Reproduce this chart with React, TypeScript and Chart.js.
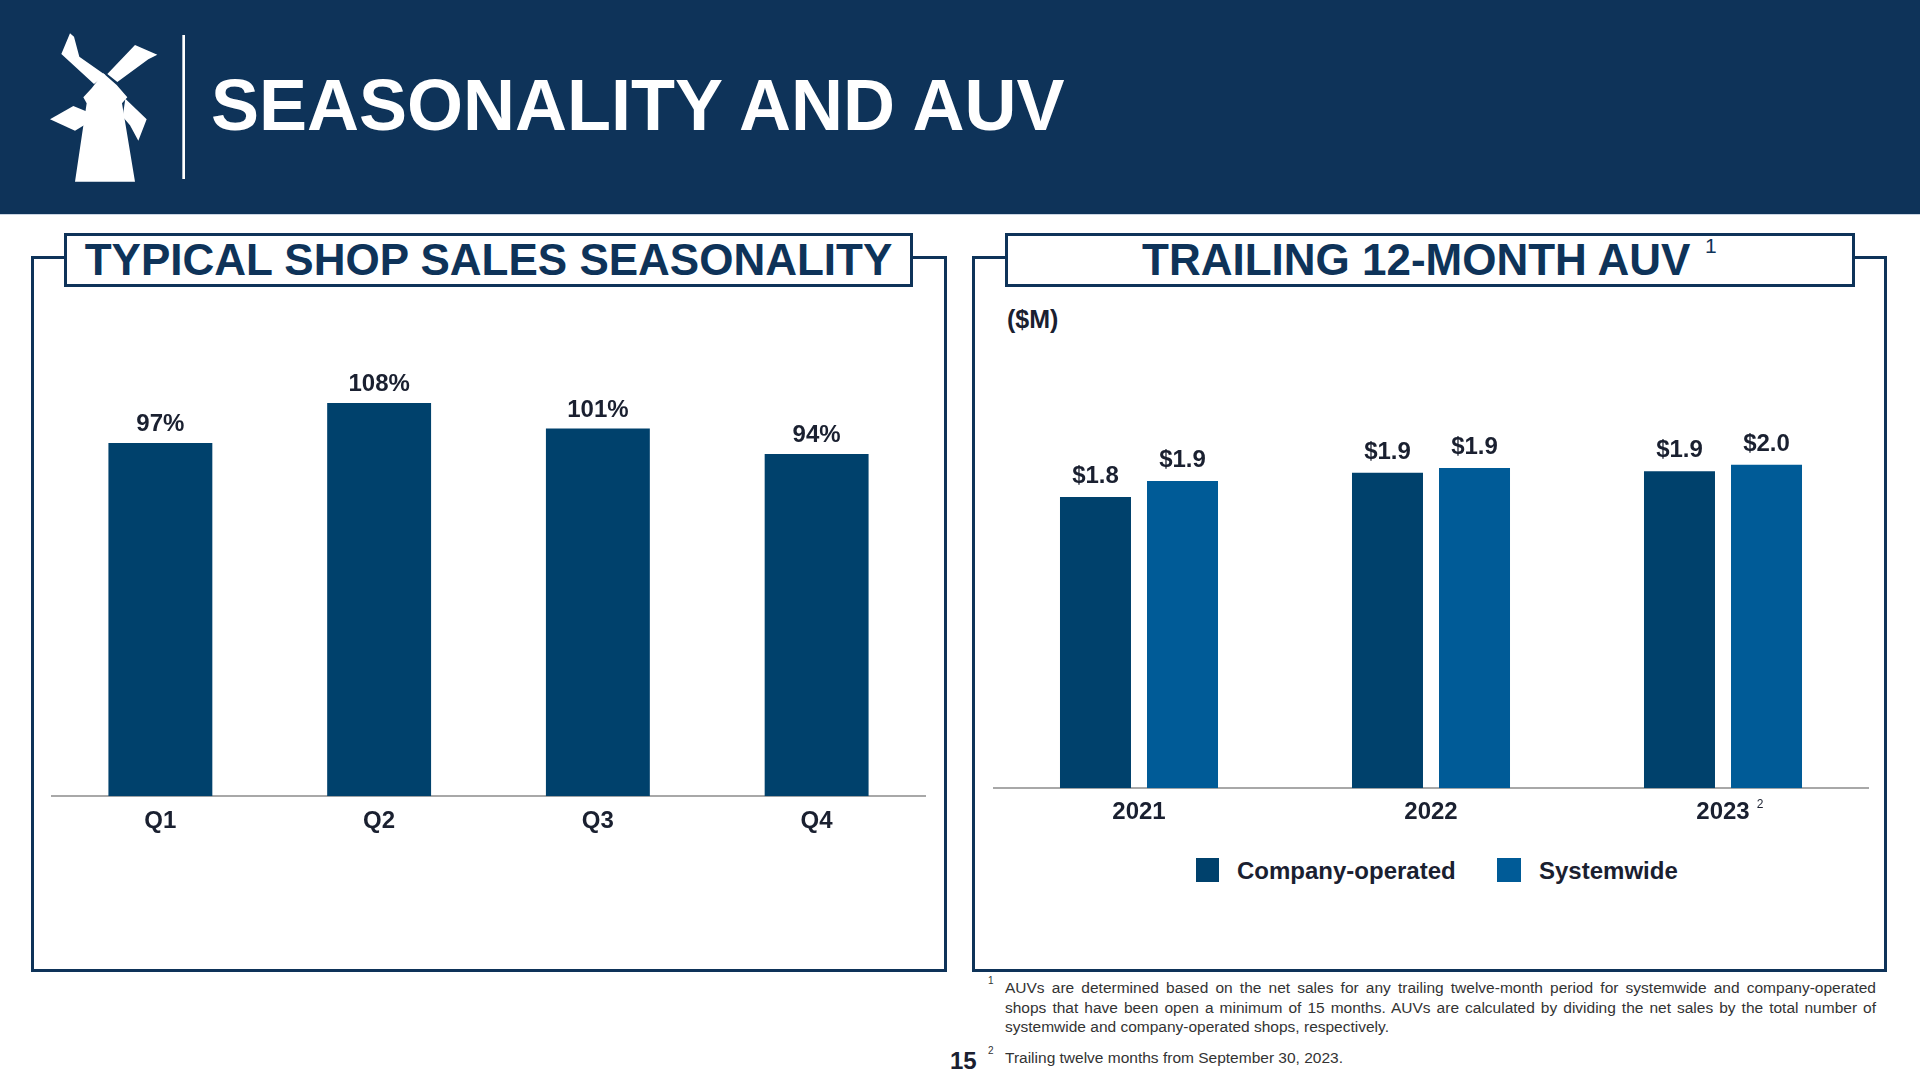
import React, { useEffect, useRef } from "react";
import { Chart, registerables } from "chart.js";

Chart.register(...registerables);

// ---------- data ----------
const quarters = ["Q1", "Q2", "Q3", "Q4"];
const seasonality = [97, 108, 101, 94];
const seasonalityLabels = ["97%", "108%", "101%", "94%"];

const years = ["2021", "2022", "2023"];
const yearSuperscripts = ["", "", "2"];
const companyOperated = [1.8, 1.95, 1.96];
const systemwide = [1.9, 1.98, 2.0];
const companyLabels = ["$1.8", "$1.9", "$1.9"];
const systemwideLabels = ["$1.9", "$1.9", "$2.0"];
const seriesNames = ["Company-operated", "Systemwide"];

const footnote1Lines = [
  "AUVs are determined based on the net sales for any trailing twelve-month period for systemwide and company-operated",
  "shops that have been open a minimum of 15 months. AUVs are calculated by dividing the net sales by the total number of",
  "systemwide and company-operated shops, respectively.",
];
const footnote2 = "Trailing twelve months from September 30, 2023.";

// ---------- style ----------
const NAVY = "#0e3359";
const BAR_DARK = "#00416c";
const BAR_LIGHT = "#005b97";
const TEXT_DARK = "#1a2030";
const AXIS_GRAY = "#a8a8a8";
const FONT = '"Liberation Sans", Arial, Helvetica, sans-serif';

function valueLabels(labelSets: string[][], offset: number) {
  return {
    id: "valueLabels",
    afterDatasetsDraw(chart: any) {
      const ctx = chart.ctx;
      ctx.save();
      ctx.font = `bold 24px ${FONT}`;
      ctx.fillStyle = TEXT_DARK;
      ctx.textAlign = "center";
      ctx.textBaseline = "alphabetic";
      chart.data.datasets.forEach((_ds: any, i: number) => {
        const meta = chart.getDatasetMeta(i);
        meta.data.forEach((bar: any, j: number) => {
          ctx.fillText(labelSets[i][j], bar.x, bar.y - offset);
        });
      });
      ctx.restore();
    },
  };
}

function tickSuperscripts(labels: string[], sups: string[], baseline: number) {
  return {
    id: "tickSups",
    afterDraw(chart: any) {
      const ctx = chart.ctx;
      const xs = chart.scales.x;
      ctx.save();
      labels.forEach((lab, i) => {
        if (!sups[i]) return;
        ctx.font = `bold 24px ${FONT}`;
        const w = ctx.measureText(lab).width;
        const px = xs.getPixelForTick(i);
        ctx.font = `12px ${FONT}`;
        ctx.fillStyle = TEXT_DARK;
        ctx.textAlign = "left";
        ctx.textBaseline = "alphabetic";
        ctx.fillText(sups[i], px + w / 2 + 7, xs.top + baseline);
      });
      ctx.restore();
    },
  };
}

function SeasonalityChart() {
  const ref = useRef<HTMLCanvasElement>(null);
  useEffect(() => {
    const chart = new Chart(ref.current as HTMLCanvasElement, {
      type: "bar",
      data: {
        labels: quarters,
        datasets: [
          {
            data: seasonality,
            backgroundColor: BAR_DARK,
            categoryPercentage: 0.95,
            barPercentage: 0.5,
          },
        ],
      },
      options: {
        animation: false,
        responsive: false,
        maintainAspectRatio: false,
        layout: { padding: 0 },
        plugins: { legend: { display: false }, tooltip: { enabled: false } },
        scales: {
          x: {
            grid: { display: false, drawTicks: false },
            border: { display: true, color: AXIS_GRAY, width: 2 },
            ticks: {
              font: { family: FONT, size: 24, weight: "bold" },
              color: TEXT_DARK,
              padding: 11,
            },
          },
          y: { display: false, min: 0, max: 130 },
        },
      },
      plugins: [valueLabels([seasonalityLabels], 12)],
    } as any);
    return () => chart.destroy();
  }, []);
  return (
    <canvas
      ref={ref}
      width={875}
      height={524}
      style={{ position: "absolute", left: 51, top: 323, width: 875, height: 524 }}
    />
  );
}

function AuvChart() {
  const ref = useRef<HTMLCanvasElement>(null);
  useEffect(() => {
    const chart = new Chart(ref.current as HTMLCanvasElement, {
      type: "bar",
      data: {
        labels: years,
        datasets: [
          {
            label: seriesNames[0],
            data: companyOperated,
            backgroundColor: BAR_DARK,
            categoryPercentage: 0.596,
            barPercentage: 0.816,
          },
          {
            label: seriesNames[1],
            data: systemwide,
            backgroundColor: BAR_LIGHT,
            categoryPercentage: 0.596,
            barPercentage: 0.816,
          },
        ],
      },
      options: {
        animation: false,
        responsive: false,
        maintainAspectRatio: false,
        layout: { padding: 0 },
        plugins: { legend: { display: false }, tooltip: { enabled: false } },
        scales: {
          x: {
            grid: { display: false, drawTicks: false },
            border: { display: true, color: AXIS_GRAY, width: 2 },
            ticks: {
              font: { family: FONT, size: 24, weight: "bold" },
              color: TEXT_DARK,
              padding: 10,
            },
          },
          y: { display: false, min: 0, max: 2.4 },
        },
      },
      plugins: [
        valueLabels([companyLabels, systemwideLabels], 14),
        tickSuperscripts(years, yearSuperscripts, 20),
      ],
    } as any);
    return () => chart.destroy();
  }, []);
  return (
    <canvas
      ref={ref}
      width={876}
      height={437}
      style={{ position: "absolute", left: 993, top: 400, width: 876, height: 437 }}
    />
  );
}

// text placed by baseline (line-height = font size)
function Txt(props: {
  x: number;
  base: number;
  size: number;
  color: string;
  bold?: boolean;
  children: React.ReactNode;
}) {
  const { x, base, size, color, bold, children } = props;
  return (
    <div
      style={{
        position: "absolute",
        left: x,
        top: base - 0.8465 * size,
        fontFamily: FONT,
        fontSize: size,
        lineHeight: `${size}px`,
        fontWeight: bold ? 700 : 400,
        color,
        whiteSpace: "nowrap",
      }}
    >
      {children}
    </div>
  );
}

function Logo() {
  return (
    <svg
      viewBox="0 0 600 540"
      width={200}
      height={180}
      style={{ position: "absolute", left: 20, top: 20 }}
    >
      <g fill="#ffffff">
        <polygon points="150,40 162,50 178,110 256,165 222,192 124,102" />
        <polygon points="345,75 412,104 385,118 292,186 262,162" />
        <polygon points="190,232 215,205 250,160 290,195 322,232 306,250 345,485 165,485 200,250" />
        <polygon points="90,298 160,258 202,275 192,316 165,332" />
        <polygon points="316,236 380,298 355,362 330,316 308,290" />
      </g>
      <rect x="487" y="45" width="8" height="432" fill="#ffffff" />
    </svg>
  );
}

function Panel(props: { left: number; width: number; boxLeft: number; boxWidth: number }) {
  const { left, width, boxLeft, boxWidth } = props;
  return (
    <>
      <div
        style={{
          position: "absolute",
          left,
          top: 256,
          width,
          height: 716,
          border: `3px solid ${NAVY}`,
          boxSizing: "border-box",
        }}
      />
      <div
        style={{
          position: "absolute",
          left: boxLeft,
          top: 233,
          width: boxWidth,
          height: 54,
          border: `3px solid ${NAVY}`,
          boxSizing: "border-box",
          background: "#ffffff",
        }}
      />
    </>
  );
}

export default function App() {
  return (
    <div
      style={{
        position: "absolute",
        left: 0,
        top: 0,
        width: 1920,
        height: 1080,
        overflow: "hidden",
        background: "#ffffff",
        fontFamily: FONT,
      }}
    >
      {/* header band */}
      <div style={{ position: "absolute", left: 0, top: 0, width: 1920, height: 214, background: NAVY }} />
      <div style={{ position: "absolute", left: 0, top: 214, width: 1920, height: 1, background: "#c9d4e2" }} />
      <Logo />
      <Txt x={211} base={130} size={72} color="#ffffff" bold>
        SEASONALITY AND AUV
      </Txt>

      {/* panels */}
      <Panel left={31} width={916} boxLeft={64} boxWidth={849} />
      <Panel left={972} width={915} boxLeft={1005} boxWidth={850} />

      {/* left panel title */}
      <div
        style={{
          position: "absolute",
          left: 64,
          width: 849,
          top: 275 - 0.8465 * 44,
          fontSize: 44,
          lineHeight: "44px",
          fontWeight: 700,
          color: NAVY,
          textAlign: "center",
          whiteSpace: "nowrap",
          fontFamily: FONT,
        }}
      >
        TYPICAL SHOP SALES SEASONALITY
      </div>

      {/* right panel title */}
      <Txt x={1142} base={275} size={44} color={NAVY} bold>
        TRAILING 12-MONTH AUV
      </Txt>
      <Txt x={1705} base={253} size={21} color={NAVY}>
        1
      </Txt>

      <Txt x={1007} base={328} size={25} color={TEXT_DARK} bold>
        ($M)
      </Txt>

      <SeasonalityChart />
      <AuvChart />

      {/* legend */}
      <div style={{ position: "absolute", left: 1196, top: 858, width: 23, height: 24, background: BAR_DARK }} />
      <Txt x={1237} base={879} size={24} color={TEXT_DARK} bold>
        {seriesNames[0]}
      </Txt>
      <div style={{ position: "absolute", left: 1497, top: 858, width: 24, height: 24, background: BAR_LIGHT }} />
      <Txt x={1539} base={879} size={24} color={TEXT_DARK} bold>
        {seriesNames[1]}
      </Txt>

      {/* footnotes */}
      <Txt x={988} base={984} size={10} color="#333333">
        1
      </Txt>
      {footnote1Lines.map((line, i) => (
        <div
          key={i}
          style={{
            position: "absolute",
            left: 1005,
            top: 978 + i * 19.5,
            width: 871,
            fontSize: 15.5,
            lineHeight: "19.5px",
            color: "#333333",
            textAlign: i < 2 ? "justify" : "left",
            textAlignLast: i < 2 ? "justify" : "left",
            whiteSpace: "nowrap",
            fontFamily: FONT,
          }}
        >
          {line}
        </div>
      ))}
      <Txt x={988} base={1054} size={10} color="#333333">
        2
      </Txt>
      <Txt x={1005} base={1063} size={15.5} color="#333333">
        {footnote2}
      </Txt>
      <Txt x={950} base={1069} size={24} color={TEXT_DARK} bold>
        15
      </Txt>
    </div>
  );
}
